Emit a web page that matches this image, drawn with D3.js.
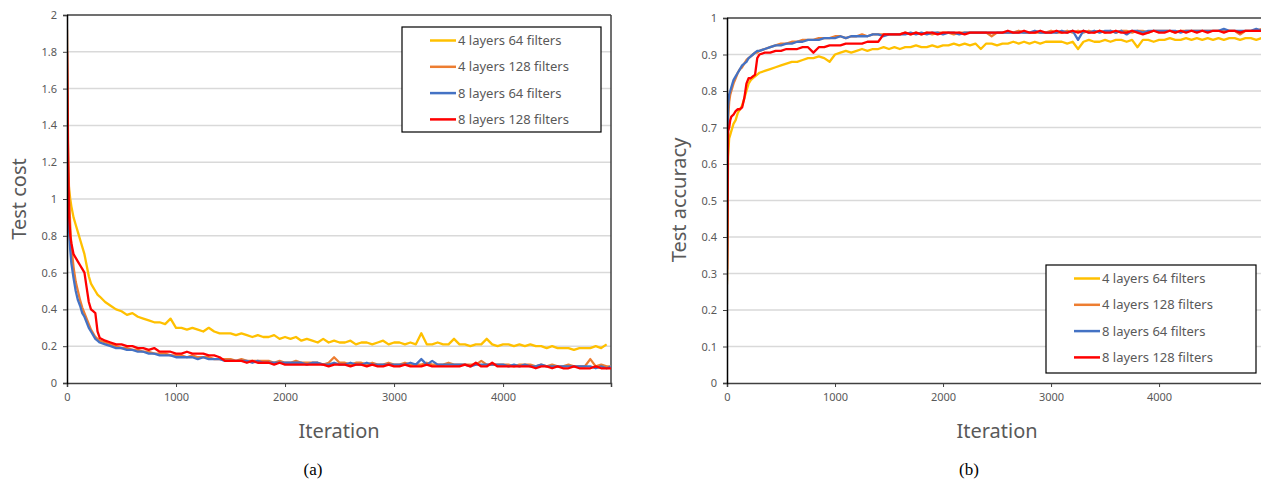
<!DOCTYPE html>
<html>
<head>
<meta charset="utf-8">
<title>Test cost / Test accuracy</title>
<script src="https://cdn.jsdelivr.net/npm/d3@7"></script>
<style>
body { margin: 0; background: #fff; font-family: "Noto Sans", "Open Sans", sans-serif; }
.tick text { font-size: 11px; fill: #595959; font-family: "Noto Sans", sans-serif; }
.grid line { stroke: #d9d9d9; stroke-width: 1.5px; }
.axis-title { font-size: 20px; fill: #595959; }
.legend text { font-size: 13px; fill: #595959; }
.caption { font-family: "Liberation Serif", "Times New Roman", serif; font-size: 17px; fill: #000; }
.series { fill: none; stroke-width: 2.3px; stroke-linejoin: round; }
</style>
</head>
<body>
<script>
// iterations
var iterations = [0,10,20,30,40,60,80,100,120,140,160,180,200,220,240,260,280,300,
  350,400,450,500,550,600,650,700,750,800,850,900,950,1000,
  1050,1100,1150,1200,1250,1300,1350,1400,1450,1500,
  1550,1600,1650,1700,1750,1800,1850,1900,1950,2000,
  2050,2100,2150,2200,2250,2300,2350,2400,2450,2500,
  2550,2600,2650,2700,2750,2800,2850,2900,2950,3000,
  3050,3100,3150,3200,3250,3300,3350,3400,3450,3500,
  3550,3600,3650,3700,3750,3800,3850,3900,3950,4000,
  4050,4100,4150,4200,4250,4300,4350,4400,4450,4500,
  4550,4600,4650,4700,4750,4800,4850,4900,4950,4990];

var seriesNames = ["4 layers 64 filters", "4 layers 128 filters", "8 layers 64 filters", "8 layers 128 filters"];
var seriesColors = ["#FFC000", "#ED7D31", "#4472C4", "#FF0000"];

// (a) test cost
var cost4x64 = [1.25,1.12,1.05,1.00,0.96,0.90,0.86,0.82,0.78,0.74,0.70,0.64,0.58,0.54,0.52,0.50,0.48,0.47,
  0.44,0.42,0.40,0.39,0.37,0.38,0.36,0.35,0.34,0.33,0.33,0.32,0.35,0.30,
  0.30,0.29,0.30,0.29,0.28,0.30,0.28,0.27,0.27,0.27,
  0.26,0.27,0.26,0.25,0.26,0.25,0.25,0.26,0.24,0.25,
  0.24,0.25,0.23,0.24,0.23,0.22,0.24,0.22,0.23,0.22,
  0.22,0.23,0.21,0.22,0.22,0.21,0.22,0.23,0.21,0.22,
  0.22,0.21,0.22,0.21,0.27,0.21,0.21,0.22,0.21,0.21,
  0.24,0.21,0.21,0.20,0.21,0.21,0.24,0.21,0.20,0.21,
  0.21,0.20,0.21,0.20,0.21,0.20,0.20,0.19,0.20,0.19,
  0.19,0.19,0.18,0.19,0.19,0.19,0.20,0.19,0.21,null];
var cost4x128 = [1.92,1.30,1.00,0.85,0.74,0.63,0.55,0.50,0.45,0.41,0.38,0.35,0.32,0.29,0.27,0.25,0.24,0.23,
  0.22,0.21,0.20,0.19,0.19,0.18,0.18,0.17,0.17,0.16,0.16,0.16,0.15,0.15,
  0.15,0.14,0.15,0.14,0.14,0.14,0.13,0.13,0.13,0.13,
  0.12,0.13,0.12,0.12,0.12,0.12,0.12,0.11,0.12,0.11,
  0.11,0.12,0.11,0.11,0.11,0.11,0.10,0.11,0.14,0.11,
  0.11,0.10,0.11,0.11,0.10,0.11,0.10,0.10,0.11,0.10,
  0.10,0.11,0.10,0.10,0.10,0.11,0.10,0.10,0.10,0.11,
  0.10,0.10,0.10,0.10,0.10,0.12,0.10,0.10,0.10,0.10,
  0.10,0.09,0.10,0.10,0.10,0.09,0.10,0.09,0.10,0.09,
  0.09,0.10,0.09,0.09,0.09,0.13,0.09,0.10,0.09,0.09];
var cost8x64 = [1.35,1.00,0.82,0.72,0.65,0.57,0.50,0.45,0.42,0.38,0.36,0.33,0.30,0.28,0.26,0.24,0.23,0.22,
  0.21,0.20,0.19,0.19,0.18,0.18,0.17,0.17,0.16,0.16,0.15,0.15,0.15,0.14,
  0.14,0.14,0.14,0.13,0.14,0.13,0.13,0.13,0.12,0.12,
  0.12,0.12,0.12,0.11,0.12,0.11,0.11,0.11,0.11,0.11,
  0.11,0.11,0.11,0.10,0.11,0.11,0.10,0.10,0.11,0.10,
  0.10,0.11,0.10,0.10,0.11,0.10,0.10,0.10,0.10,0.10,
  0.10,0.10,0.11,0.10,0.13,0.10,0.12,0.10,0.10,0.10,
  0.10,0.10,0.10,0.09,0.10,0.10,0.10,0.10,0.10,0.10,
  0.09,0.10,0.09,0.10,0.09,0.09,0.10,0.09,0.09,0.09,
  0.09,0.09,0.09,0.09,0.09,0.09,0.08,0.09,0.08,0.09];
var cost8x128 = [1.80,1.20,0.90,0.80,0.76,0.70,0.68,0.66,0.64,0.62,0.60,0.52,0.44,0.40,0.39,0.38,0.28,0.245,
  0.23,0.22,0.21,0.21,0.20,0.20,0.19,0.19,0.18,0.19,0.17,0.17,0.17,0.16,
  0.16,0.17,0.16,0.16,0.16,0.15,0.15,0.14,0.12,0.12,
  0.12,0.12,0.11,0.12,0.11,0.11,0.11,0.10,0.11,0.10,
  0.10,0.10,0.10,0.10,0.10,0.10,0.10,0.09,0.10,0.10,
  0.10,0.09,0.10,0.10,0.09,0.10,0.09,0.09,0.10,0.09,
  0.09,0.10,0.09,0.09,0.09,0.10,0.09,0.09,0.09,0.09,
  0.09,0.09,0.10,0.09,0.11,0.09,0.09,0.11,0.09,0.09,
  0.09,0.09,0.09,0.09,0.09,0.08,0.09,0.09,0.08,0.09,
  0.08,0.08,0.09,0.08,0.08,0.08,0.09,0.08,0.08,0.08];

// (b) test accuracy
var acc4x64 = [0.28,0.62,0.67,0.68,0.69,0.71,0.72,0.74,0.75,0.76,0.78,0.80,0.82,0.83,0.835,0.84,0.845,0.85,
  0.855,0.86,0.865,0.87,0.875,0.88,0.88,0.885,0.89,0.89,0.895,0.89,0.88,0.90,
  0.905,0.91,0.905,0.91,0.915,0.91,0.915,0.915,0.92,0.915,
  0.92,0.915,0.92,0.92,0.925,0.92,0.92,0.925,0.92,0.925,
  0.925,0.93,0.925,0.93,0.925,0.93,0.915,0.93,0.93,0.925,
  0.93,0.93,0.935,0.93,0.935,0.93,0.935,0.93,0.935,0.935,
  0.935,0.935,0.93,0.935,0.915,0.935,0.94,0.935,0.935,0.94,
  0.935,0.94,0.94,0.935,0.94,0.92,0.94,0.94,0.935,0.94,
  0.94,0.945,0.94,0.94,0.945,0.94,0.945,0.94,0.945,0.94,
  0.945,0.94,0.945,0.945,0.94,0.945,0.945,0.94,0.945,0.94];
var acc4x128 = [0.27,0.72,0.77,0.79,0.80,0.82,0.835,0.85,0.86,0.865,0.875,0.885,0.89,0.895,0.90,0.905,0.905,0.91,
  0.915,0.92,0.925,0.93,0.93,0.935,0.935,0.94,0.94,0.94,0.945,0.945,0.945,0.95,
  0.95,0.945,0.95,0.95,0.955,0.95,0.955,0.955,0.955,0.955,
  0.955,0.955,0.96,0.955,0.96,0.955,0.96,0.955,0.96,0.96,
  0.96,0.955,0.96,0.96,0.96,0.96,0.96,0.96,0.95,0.96,
  0.96,0.96,0.96,0.965,0.96,0.96,0.96,0.96,0.96,0.965,
  0.96,0.96,0.965,0.96,0.965,0.96,0.965,0.96,0.965,0.96,
  0.965,0.96,0.965,0.965,0.96,0.965,0.965,0.96,0.965,0.965,
  0.965,0.965,0.96,0.965,0.965,0.965,0.965,0.965,0.965,0.965,
  0.965,0.965,0.965,0.965,0.955,0.965,0.965,0.965,0.97,0.97];
var acc8x64 = [0.60,0.76,0.79,0.80,0.81,0.83,0.84,0.85,0.86,0.87,0.875,0.88,0.89,0.895,0.90,0.905,0.91,0.91,
  0.915,0.92,0.925,0.925,0.93,0.93,0.935,0.935,0.94,0.94,0.94,0.945,0.945,0.945,
  0.95,0.945,0.95,0.95,0.95,0.95,0.955,0.955,0.95,0.955,
  0.955,0.955,0.955,0.96,0.955,0.96,0.955,0.96,0.96,0.955,
  0.96,0.96,0.955,0.96,0.96,0.96,0.96,0.96,0.96,0.96,
  0.96,0.96,0.96,0.96,0.96,0.96,0.965,0.96,0.96,0.96,
  0.96,0.965,0.96,0.965,0.94,0.965,0.96,0.965,0.96,0.965,
  0.965,0.96,0.965,0.955,0.965,0.965,0.96,0.965,0.965,0.965,
  0.965,0.965,0.965,0.96,0.965,0.965,0.965,0.965,0.965,0.965,
  0.965,0.97,0.965,0.965,0.965,0.965,0.965,0.97,0.965,0.97];
var acc8x128 = [0.31,0.69,0.70,0.72,0.73,0.735,0.745,0.75,0.75,0.755,0.78,0.82,0.835,0.835,0.84,0.845,0.89,0.90,
  0.905,0.905,0.91,0.91,0.915,0.915,0.915,0.92,0.92,0.905,0.92,0.92,0.925,0.925,
  0.925,0.93,0.93,0.93,0.93,0.935,0.935,0.935,0.955,0.955,
  0.955,0.955,0.96,0.955,0.96,0.955,0.96,0.96,0.955,0.96,
  0.96,0.96,0.96,0.955,0.96,0.96,0.96,0.96,0.96,0.96,
  0.96,0.965,0.96,0.96,0.965,0.96,0.96,0.965,0.96,0.96,
  0.965,0.96,0.96,0.965,0.96,0.965,0.96,0.96,0.965,0.96,
  0.96,0.965,0.96,0.96,0.965,0.96,0.955,0.96,0.965,0.96,
  0.96,0.965,0.96,0.965,0.96,0.965,0.96,0.965,0.96,0.965,
  0.965,0.96,0.965,0.965,0.96,0.965,0.965,0.965,0.965,0.965];

var xTicks = [0, 1000, 2000, 3000, 4000];
var costTicks = [0, 0.2, 0.4, 0.6, 0.8, 1, 1.2, 1.4, 1.6, 1.8, 2];
var accTicks = [0, 0.1, 0.2, 0.3, 0.4, 0.5, 0.6, 0.7, 0.8, 0.9, 1];

var svg = d3.select("body").append("svg")
  .attr("width", 1261)
  .attr("height", 484);

function drawChart(o) {
  var x = d3.scaleLinear().domain(o.xDomain).range([o.left, o.right]);
  var y = d3.scaleLinear().domain(o.yDomain).range([o.bottom, o.top]);
  var g = svg.append("g");

  g.append("clipPath").attr("id", o.id)
    .append("rect")
    .attr("x", o.left).attr("y", o.top - 5)
    .attr("width", Math.min(o.right, 1261) - o.left).attr("height", o.bottom - o.top + 5);

  // gridlines
  g.append("g").attr("class", "grid")
    .selectAll("line")
    .data(o.yTicks.filter(function(d) { return d > 0 && d < o.yDomain[1]; }))
    .enter().append("line")
    .attr("x1", o.left).attr("x2", o.right)
    .attr("y1", function(d) { return y(d); })
    .attr("y2", function(d) { return y(d); });

  // frame
  g.append("line").attr("x1", o.left).attr("x2", o.right)
    .attr("y1", o.top).attr("y2", o.top)
    .attr("stroke", "#404040").attr("stroke-width", 1.5);
  if (o.rightBorder) {
    g.append("line").attr("x1", o.right).attr("x2", o.right)
      .attr("y1", o.top).attr("y2", o.bottom)
      .attr("stroke", "#404040").attr("stroke-width", 1.5);
  }

  var line = d3.line()
    .defined(function(d) { return d[1] != null; })
    .x(function(d) { return x(d[0]); })
    .y(function(d) { return y(d[1]); });

  g.append("g").attr("clip-path", "url(#" + o.id + ")")
    .selectAll("path")
    .data(o.series)
    .enter().append("path")
    .attr("class", "series")
    .attr("stroke", function(d, i) { return seriesColors[i]; })
    .attr("d", function(s) {
      return line(iterations.map(function(it, k) { return [it, s[k]]; }));
    });

  var xAxis = d3.axisBottom(x).tickValues(xTicks).tickSize(4).tickPadding(6)
    .tickFormat(d3.format("d"));
  g.append("g").attr("class", "x axis")
    .attr("transform", "translate(0," + o.bottom + ")")
    .call(xAxis)
    .call(function(a) { a.select(".domain").attr("stroke", "#404040").attr("stroke-width", 1.5); })
    .call(function(a) { a.selectAll(".tick line").attr("stroke", "#404040"); });

  var yAxis = d3.axisLeft(y).tickValues(o.yTicks).tickSize(4).tickPadding(6)
    .tickFormat(d3.format("~g"));
  g.append("g").attr("class", "y axis")
    .attr("transform", "translate(" + o.left + ",0)")
    .call(yAxis)
    .call(function(a) { a.select(".domain").attr("stroke", "#000").attr("stroke-width", 1.5); })
    .call(function(a) { a.selectAll(".tick line").attr("stroke", "#404040"); });

  g.append("text").attr("class", "axis-title")
    .attr("x", o.xTitleX).attr("y", 438)
    .attr("text-anchor", "middle")
    .text("Iteration");

  g.append("text").attr("class", "axis-title")
    .attr("transform", "translate(" + o.yTitleX + "," + o.yTitleY + ") rotate(-90)")
    .attr("text-anchor", "middle")
    .text(o.yTitle);

  g.append("text").attr("class", "caption")
    .attr("x", o.captionX).attr("y", 475)
    .attr("text-anchor", "middle")
    .text(o.caption);

  // legend
  var lg = g.append("g").attr("class", "legend");
  lg.append("rect")
    .attr("x", o.legend[0]).attr("y", o.legend[1])
    .attr("width", o.legend[2]).attr("height", o.legend[3])
    .attr("fill", "#fff").attr("stroke", "#000").attr("stroke-width", 1.2);
  var item = lg.selectAll("g.item")
    .data(seriesNames)
    .enter().append("g").attr("class", "item")
    .attr("transform", function(d, i) {
      return "translate(" + (o.legend[0] + 28) + "," + (o.legend[1] + 13.5 + i * 26.3) + ")";
    });
  item.append("line")
    .attr("x1", 0).attr("x2", 26)
    .attr("stroke", function(d, i) { return seriesColors[i]; })
    .attr("stroke-width", 2.5);
  item.append("text")
    .attr("x", 28).attr("dy", "0.36em")
    .text(function(d) { return d; });
}

drawChart({
  id: "clipA",
  left: 67, right: 611, top: 15, bottom: 383,
  xDomain: [0, 4990], yDomain: [0, 2],
  yTicks: costTicks,
  series: [cost4x64, cost4x128, cost8x64, cost8x128],
  rightBorder: true,
  yTitle: "Test cost", yTitleX: 26, yTitleY: 199,
  xTitleX: 339, captionX: 313, caption: "(a)",
  legend: [402, 27, 199, 105]
});

drawChart({
  id: "clipB",
  left: 727, right: 1266, top: 18, bottom: 383,
  xDomain: [0, 4990], yDomain: [0, 1],
  yTicks: accTicks,
  series: [acc4x64, acc4x128, acc8x64, acc8x128],
  rightBorder: false,
  yTitle: "Test accuracy", yTitleX: 686, yTitleY: 200,
  xTitleX: 997, captionX: 969, caption: "(b)",
  legend: [1046, 265, 210, 108]
});
</script>
</body>
</html>
